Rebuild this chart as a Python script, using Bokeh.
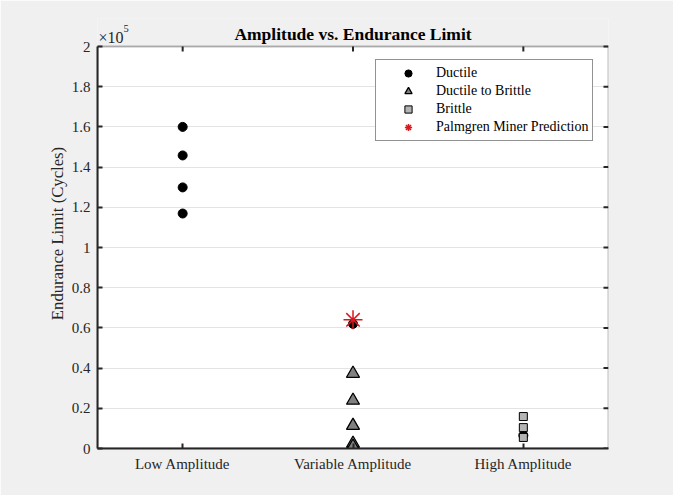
import math
from bokeh.plotting import figure
from bokeh.models import Range1d, FixedTicker, Legend, LegendItem, BoxAnnotation
from bokeh.core.properties import value
from bokeh.embed import file_html
from bokeh.resources import INLINE

# ---- data ----
title_text = "Amplitude vs. Endurance Limit"
y_label = "Endurance Limit (Cycles)"
categories = ["Low Amplitude", "Variable Amplitude", "High Amplitude"]
cat_pos = [1, 2, 3]

ductile_x = [1, 1, 1, 1, 2, 3]
ductile_y = [160000, 145800, 129900, 116900, 62000, 6500]

d2b_x = [2, 2, 2, 2, 2]
d2b_y = [37300, 23900, 11400, 2500, 1000]

brittle_x = [3, 3, 3]
brittle_y = [15900, 10400, 5500]

pm_x = [2]
pm_y = [64000]

y_ticks = [0, 20000, 40000, 60000, 80000, 100000, 120000, 140000, 160000, 180000, 200000]
y_tick_labels = ["0", "0.2", "0.4", "0.6", "0.8", "1", "1.2", "1.4", "1.6", "1.8", "2"]

X_MIN, X_MAX = 0.5, 3.5
Y_MIN, Y_MAX = 0, 200000

# layout (pixels)
W, H = 673, 495
BOX_LEFT, BOX_RIGHT, BOX_TOP, BOX_BOTTOM = 97, 608, 46, 448
HEAD = 28  # extra room above the axes box, inside the frame, for title and exponent
box_h = BOX_BOTTOM - BOX_TOP
Y_VIEW_TOP = Y_MAX + (Y_MAX - Y_MIN) * HEAD / box_h

FONT = "Liberation Serif"
AX = "#262626"
BG = "#f0f0f0"

p = figure(width=W, height=H, x_range=Range1d(X_MIN, X_MAX), y_range=Range1d(Y_MIN, Y_VIEW_TOP),
           output_backend="svg", toolbar_location=None,
           min_border_left=BOX_LEFT, min_border_right=W - BOX_RIGHT,
           min_border_top=BOX_TOP - HEAD, min_border_bottom=H - BOX_BOTTOM,
           background_fill_color=BG, border_fill_color=BG, outline_line_color=None)
p.title.visible = False

# white axes box
p.add_layout(BoxAnnotation(left=X_MIN, right=X_MAX, bottom=Y_MIN, top=Y_MAX,
                           fill_color="white", fill_alpha=1, line_color=None, level="image"))

for ax in (p.xaxis[0], p.yaxis[0]):
    ax.axis_line_color = AX
    ax.axis_line_width = 2
    ax.major_tick_in = 5
    ax.major_tick_out = 0
    ax.major_tick_line_color = AX
    ax.major_tick_line_width = 2
    ax.minor_tick_line_color = None
    ax.major_label_text_font = FONT
    ax.major_label_text_font_size = "15px"
    ax.major_label_text_color = AX

p.xaxis.ticker = FixedTicker(ticks=cat_pos)
p.xaxis.major_label_overrides = {c: t for c, t in zip(cat_pos, categories)}
p.xaxis.major_label_standoff = 7

p.yaxis.bounds = (Y_MIN, Y_MAX)
p.yaxis.ticker = FixedTicker(ticks=y_ticks)
p.yaxis.major_label_overrides = {v: t for v, t in zip(y_ticks, y_tick_labels)}
p.yaxis.major_label_standoff = 7
p.yaxis.axis_label = y_label
p.yaxis.axis_label_text_font = FONT
p.yaxis.axis_label_text_font_size = "16.7px"
p.yaxis.axis_label_text_font_style = "normal"
p.yaxis.axis_label_text_color = AX
p.yaxis.axis_label_standoff = 2

p.xgrid.grid_line_color = None
p.ygrid.ticker = FixedTicker(ticks=y_ticks)
p.ygrid.grid_line_color = "#e3e3e3"
p.ygrid.grid_line_width = 1

# box outline (top and right edges; left/bottom coincide with axes)
p.add_layout(BoxAnnotation(left=X_MIN, right=X_MAX, bottom=Y_MIN, top=Y_MAX,
                           fill_alpha=0, line_color=AX, line_width=2, level="underlay"))

# mirrored inward ticks on the top and right edges of the box (5 px, screen units)
p.ray(x=cat_pos, y=[Y_MAX] * len(cat_pos), length=5, length_units="screen",
      angle=-math.pi / 2, line_color=AX, line_width=2)
p.ray(x=[X_MAX] * len(y_ticks), y=y_ticks, length=5, length_units="screen",
      angle=math.pi, line_color=AX, line_width=2)

r1 = p.scatter(ductile_x, ductile_y, marker="circle", size=9, fill_color="black", line_color="black")
r2 = p.scatter(d2b_x, d2b_y, marker="triangle", size=13, fill_color="#808080", line_color="black", line_width=1.3)
r3 = p.scatter(brittle_x, brittle_y, marker="square", size=8, fill_color="#b4b4b4", line_color="black", line_width=1)
r4 = p.scatter(pm_x, pm_y, marker="asterisk", size=19, line_color="#d7191f", line_width=1.5)

legend = Legend(items=[LegendItem(label="Ductile", renderers=[r1]),
                       LegendItem(label="Ductile to Brittle", renderers=[r2]),
                       LegendItem(label="Brittle", renderers=[r3]),
                       LegendItem(label="Palmgren Miner Prediction", renderers=[r4])],
                location=(278, 307), padding=4, spacing=0,
                glyph_width=56, glyph_height=18, label_height=18, label_standoff=0,
                label_text_font=FONT, label_text_font_size="14px", label_text_color="black",
                border_line_color=AX, border_line_width=1,
                background_fill_color="white", background_fill_alpha=1)
p.add_layout(legend)

# title, centred over the axes box
p.text(x=[(X_MIN + X_MAX) / 2], y=[Y_MAX], text=[title_text], y_offset=-13,
       text_font=value(FONT), text_font_size="17.5px", text_font_style="bold",
       text_color="black", text_align="center", text_baseline="alphabetic")

# axis exponent "×10^5" above the top-left corner of the box
p.text(x=[X_MIN], y=[Y_MAX], text=["×10"], x_offset=1, y_offset=-9,
       text_font=value(FONT), text_font_size="16px", text_color=AX, text_baseline="alphabetic")
p.text(x=[X_MIN], y=[Y_MAX], text=["5"], x_offset=26, y_offset=-18,
       text_font=value(FONT), text_font_size="10.5px", text_color=AX, text_baseline="alphabetic")

html = file_html(p, INLINE)
open("out.html", "w").write(html)
